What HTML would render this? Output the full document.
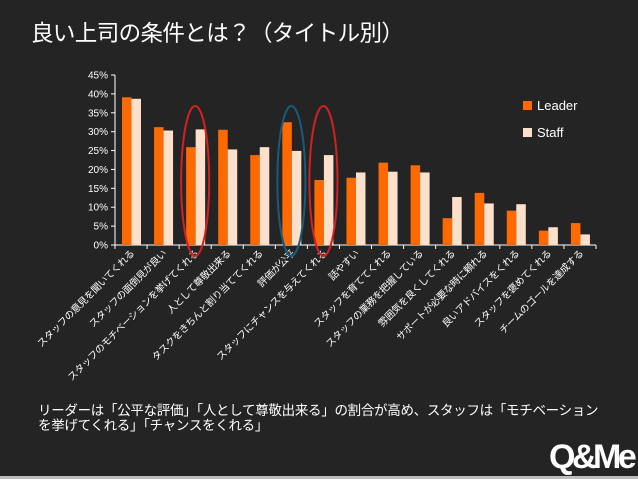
<!DOCTYPE html>
<html><head><meta charset="utf-8"><style>
html,body{margin:0;padding:0;background:#242424;}
body{width:638px;height:479px;overflow:hidden;position:relative;font-family:"Liberation Sans","Noto Sans CJK JP",sans-serif;color:#fff;}
#title{position:absolute;left:31px;top:16px;font-size:22.5px;letter-spacing:-0.6px;white-space:nowrap;}
#note{position:absolute;left:38px;top:403px;font-size:13.5px;line-height:15px;letter-spacing:-0.3px;white-space:nowrap;}
#logo{position:absolute;left:549px;top:438px;font-size:34px;font-weight:bold;letter-spacing:-3.5px;font-family:"Liberation Sans Narrow","Liberation Sans",sans-serif;}
#strip{position:absolute;left:0;top:476px;width:638px;height:3px;background:#bdbdbd;}
</style></head><body>
<div id="title">良い上司の条件とは？（タイトル別）</div>
<svg id="chart" width="638" height="479" style="position:absolute;left:0;top:0"></svg>
<div id="note">リーダーは「公平な評価」「人として尊敬出来る」の割合が高め、スタッフは「モチベーション<br>を挙げてくれる」「チャンスをくれる」</div>
<div id="logo">Q&amp;Me</div>
<div id="strip"></div>
<script>
const categories=["スタッフの意見を聞いてくれる","スタッフの面倒見が良い","スタッフのモチベーションを挙げてくれる","人として尊敬出来る","タスクをきちんと割り当ててくれる","評価が公平","スタッフにチャンスを与えてくれる","話やすい","スタッフを育ててくれる","スタッフの業務を把握している","雰囲気を良くしてくれる","サポートが必要な時に頼れる","良いアドバイスをくれる","スタッフを褒めてくれる","チームのゴールを達成する"];
const leader=[39.1,31.2,25.9,30.5,23.8,32.5,17.2,17.8,21.8,21.1,7.1,13.8,9.1,3.8,5.8];
const staff=[38.7,30.3,30.6,25.3,25.9,24.9,23.8,19.2,19.4,19.2,12.7,11.0,10.8,4.7,2.8];
const yTicks=[0,5,10,15,20,25,30,35,40,45];
const seriesNames=["Leader","Staff"];
const colors=["#ff6a00","#fde0cc"];
const highlights=[[2,"#d42020"],[5,"#1a5a7a"],[6,"#d42020"]];

const NS="http://www.w3.org/2000/svg";
const svg=document.getElementById('chart');
const x0=115,x1=596,yBase=245,yTop=75,yMax=45;
const bandW=(x1-x0)/categories.length;
function xBand(i){return x0+i*bandW;}
function yScale(v){return yBase-(v/yMax)*(yBase-yTop);}
function mk(tag,attrs){const e=document.createElementNS(NS,tag);for(const k in attrs)e.setAttribute(k,attrs[k]);svg.appendChild(e);return e;}

let ax=mk('line',{x1:x0,y1:yTop,x2:x0,y2:yBase,stroke:'#fff','stroke-width':1});


let bx=mk('line',{x1:x0,y1:yBase,x2:x1,y2:yBase,stroke:'#fff','stroke-width':1});


yTicks.forEach(t=>{
  const y=yScale(t);
  mk('line',{x1:x0-4,y1:y,x2:x0,y2:y,stroke:'#fff'});
  const tx=mk('text',{x:x0-7,y:y+3.5,'text-anchor':'end','font-size':10,fill:'#fff'});
  tx.textContent=t+'%';
  
  
});
for(let i=0;i<=categories.length;i++){mk('line',{x1:xBand(i),y1:yBase,x2:xBand(i),y2:yBase+4,stroke:'#fff'});}
const bw=9.5;
categories.forEach((c,i)=>{
  [leader,staff].forEach((s,k)=>{
    const x=xBand(i)+7+k*bw;const y=yScale(s[i]);
    const r=mk('rect',{x:x,y:y,width:bw,height:yBase-y,fill:colors[k]});
    
    
  });
  const cx=xBand(i)+bandW/2+4,cy=yBase+9;
  const t=mk('text',{x:cx,y:cy,'text-anchor':'end','font-size':9.8,'letter-spacing':-0.3,fill:'#fff',transform:`rotate(-45 ${cx} ${cy})`});
  t.textContent=c;
  
  
});
highlights.forEach(h=>{
  const cx=xBand(h[0])+bandW/2;
  const top=106,bot=256;
  const e=mk('ellipse',{cx:cx,cy:(top+bot)/2,rx:14,ry:(bot-top)/2,fill:'none',stroke:h[1],'stroke-width':2});
  
  
});
seriesNames.forEach((n,k)=>{
  const y=101+k*27;
  const r=mk('rect',{x:523,y:y,width:9,height:9,fill:colors[k]});
  
  
  const t=mk('text',{x:537,y:y+9,'font-size':13,fill:'#fff'});
  t.textContent=n;
  
  
});
</script>
</body></html>
